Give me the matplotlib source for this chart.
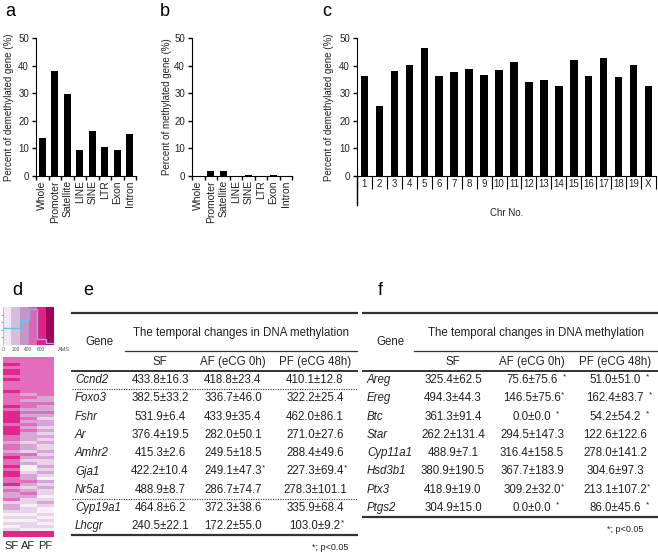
import numpy as np
import matplotlib.pyplot as plt
from matplotlib.colors import ListedColormap

plt.rcParams['font.family'] = ['Liberation Sans', 'DejaVu Sans']

W, H = 658, 553

# a / b: genomic regions
regions = ['Whole', 'Promoter', 'Satellite', 'LINE', 'SINE', 'LTR', 'Exon', 'Intron']
demeth_pct = [13.7, 38.0, 29.8, 9.4, 16.3, 10.5, 9.4, 15.1]
meth_pct = [0.0, 1.8, 1.9, 0.0, 0.2, 0.0, 0.3, 0.0]

# c: chromosomes
chroms = [str(i) for i in range(1, 20)] + ['X']
chrom_pct = [36.3, 25.3, 38.1, 40.2, 46.2, 36.1, 37.6, 38.6, 36.6, 38.3,
             41.3, 34.1, 34.7, 32.5, 42.0, 36.3, 42.6, 35.7, 40.3, 32.6]

# d: heatmap (colour level 0-5 per row, top to bottom) and AMS legend
hm_cols = ['SF', 'AF', 'PF']
sf_lv = "33" "434434" "3334333343" "444434443" "323323433" "434433423" "223122" "1010101" "44"
af_lv = "333333333333" "232332" "323232322" "212213212" "0012" "23212321" "1011010110" "44"
pf_lv = "3333333333333" "223223" "21221212" "121121211" "212102121" "101210" "0101010" "44"
level_colors = ['#F7F0F7', '#E9D3E9', '#D3A8D5', '#E46DBB', '#E2268C', '#A3005B']
legend_colors = ['#EFE9F3', '#D7BDDB', '#C596C9', '#DA66B6', '#E21F85', '#A3005B']
ams_edges = [0, 133, 267, 400, 533, 667, 800]
hist_edges = [0, 267, 408, 533, 675, 800]
hist_heights = [0.46, 0.65, 0.96, 0.17, 0.04]

# e / f: tables
genes_e = ['Ccnd2', 'Foxo3', 'Fshr', 'Ar', 'Amhr2', 'Gja1', 'Nr5a1', 'Cyp19a1', 'Lhcgr']
sf_e = ['433.8±16.3', '382.5±33.2', '531.9±6.4', '376.4±19.5', '415.3±2.6',
        '422.2±10.4', '488.9±8.7', '464.8±6.2', '240.5±22.1']
af_e = ['418.8±23.4', '336.7±46.0', '433.9±35.4', '282.0±50.1', '249.5±18.5',
        '249.1±47.3*', '286.7±74.7', '372.3±38.6', '172.2±55.0']
pf_e = ['410.1±12.8', '322.2±25.4', '462.0±86.1', '271.0±27.6', '288.4±49.6',
        '227.3±69.4*', '278.3±101.1', '335.9±68.4', '103.0±9.2*']
dotted_e = [0, 6]

genes_f = ['Areg', 'Ereg', 'Btc', 'Star', 'Cyp11a1', 'Hsd3b1', 'Ptx3', 'Ptgs2']
sf_f = ['325.4±62.5', '494.3±44.3', '361.3±91.4', '262.2±131.4', '488.9±7.1',
        '380.9±190.5', '418.9±19.0', '304.9±15.0']
af_f = ['75.6±75.6 *', '146.5±75.6*', '0.0±0.0 *', '294.5±147.3', '316.4±158.5',
        '367.7±183.9', '309.2±32.0*', '0.0±0.0 *']
pf_f = ['51.0±51.0 *', '162.4±83.7 *', '54.2±54.2 *', '122.6±122.6', '278.0±141.2',
        '304.6±97.3', '213.1±107.2*', '86.0±45.6 *']

TXT = '#222222'
TFS = 8.3

fig = plt.figure(figsize=(W / 100, H / 100), dpi=100)


def px_axes(x0, y0, x1, y1):
    return fig.add_axes([x0 / W, 1 - y1 / H, (x1 - x0) / W, (y1 - y0) / H])


def bar_panel(box, cats, vals, ylabel, width, label_x):
    ax = px_axes(*box)
    x = np.arange(len(cats))
    ax.bar(x, vals, width=width, color='black')
    ax.set_xlim(-0.5, len(cats) - 0.5)
    ax.set_ylim(0, 50)
    ax.set_yticks(range(0, 51, 10))
    for s in ['top', 'right']:
        ax.spines[s].set_visible(False)
    ax.tick_params(axis='y', direction='out', length=3, width=1, labelsize=7,
                   pad=2, labelcolor=TXT)
    ax.set_xticks(np.arange(len(cats) + 1) - 0.5)
    ax.set_xticklabels([])
    ax.set_xticks(x, minor=True)
    ax.set_ylabel(ylabel, fontsize=7, color=TXT)
    ax.yaxis.set_label_coords(label_x, 0.5)
    return ax, x


# a
ax, x = bar_panel((36, 38, 136, 176), regions, demeth_pct,
                  'Percent of demethylated gene (%)', 0.55, -0.22)
ax.set_xticklabels(regions, minor=True, rotation=90, fontsize=7.5, color=TXT)
ax.tick_params(axis='x', which='major', length=3, width=1)
ax.tick_params(axis='x', which='minor', length=0, pad=3)

# b
ax, x = bar_panel((192, 38, 292, 176), regions, meth_pct,
                  'Percent of methylated gene (%)', 0.55, -0.20)
ax.set_xticklabels(regions, minor=True, rotation=90, fontsize=7.5, color=TXT)
ax.tick_params(axis='x', which='major', length=3, width=1)
ax.tick_params(axis='x', which='minor', length=0, pad=3)

# c
ax, x = bar_panel((357, 38, 656, 176), chroms, chrom_pct,
                  'Percent of demethylated gene (%)', 0.5, -0.077)
ax.set_xticklabels(chroms, minor=True, fontsize=7, color=TXT)
ax.tick_params(axis='x', which='major', length=9.5, width=0.8)
ax.tick_params(axis='x', which='minor', length=0, pad=2)
ax.plot([-0.5, -0.5], [0, -0.21], color='black', lw=1,
        transform=ax.get_xaxis_transform(), clip_on=False)
ax.set_xlabel('Chr No.', fontsize=7, color=TXT, labelpad=10)

# d: AMS legend
axl = px_axes(3, 307, 54, 345)
axl.bar(ams_edges[:-1], 1, width=np.diff(ams_edges), align='edge',
        color=legend_colors)
axl.stairs(hist_heights, hist_edges, baseline=None, color='#5BC8EA', lw=1)
axl.set_xlim(0, 800)
axl.set_ylim(0, 1)
axl.set_xticks([0, 200, 400, 600])
axl.set_yticks([0.2, 0.4, 0.6, 0.8])
axl.set_yticklabels([])
axl.tick_params(axis='x', length=0, labelsize=3.5, pad=1.5, labelcolor='#555555')
axl.tick_params(axis='y', length=1.5, width=0.5, color='#777777')
for s in ['top', 'right', 'bottom']:
    axl.spines[s].set_visible(False)
axl.spines['left'].set_linewidth(0.4)
axl.spines['left'].set_color('#999999')
axl.text(1.07, -0.13, 'AMS', transform=axl.transAxes, fontsize=4,
         color='#555555', va='center', ha='left')

# d: heatmap
levels = np.array([[int(c) for c in col] for col in (sf_lv, af_lv, pf_lv)]).T
axh = px_axes(3, 357, 54, 537)
axh.imshow(levels, cmap=ListedColormap(level_colors), vmin=-0.5, vmax=5.5,
           aspect='auto', interpolation='nearest')
axh.set_xticks(range(len(hm_cols)))
axh.set_xticklabels(hm_cols, fontsize=8, color=TXT)
axh.set_yticks([])
axh.tick_params(axis='x', length=0, pad=3)
for s in axh.spines.values():
    s.set_visible(False)

# overlay for panel letters and tables (pixel coordinates)
ov = fig.add_axes([0, 0, 1, 1])
ov.set_xlim(0, W)
ov.set_ylim(H, 0)
ov.axis('off')

for letter, lx, ly in [('a', 5, 16), ('b', 160, 16), ('c', 322, 16),
                       ('d', 12, 295), ('e', 83, 295), ('f', 378, 295)]:
    ov.text(lx, ly, letter, fontsize=13, ha='left', va='baseline', color='black')


def cell(x, y, s):
    base = s.rstrip(' *')
    t = ov.text(x, y, base, ha='center', va='center', fontsize=TFS, color=TXT)
    if s.endswith('*'):
        gap = 3.5 if s.endswith(' *') else 0.3
        ov.annotate('*', xy=(1, 1), xycoords=t, xytext=(gap, 0.5),
                    textcoords='offset points', fontsize=6, ha='left',
                    va='top', color=TXT)


def draw_table(x0, x1, gene_x, head_x, sub_x0, col_x, genes, cols, dotted, note_x):
    y0, dy = 380, 18.3
    n = len(genes)
    lc = '#333333'
    ov.plot([x0, x1], [313, 313], color=lc, lw=1.6)
    ov.text((sub_x0 + x1) / 2, 333, 'The temporal changes in DNA methylation',
            ha='center', va='center', fontsize=TFS, color=TXT)
    ov.plot([sub_x0, x1], [351, 351], color=lc, lw=0.9)
    ov.text(head_x, 342, 'Gene', ha='center', va='center', fontsize=TFS, color=TXT)
    for cx, name in zip(col_x, ['SF', 'AF (eCG 0h)', 'PF (eCG 48h)']):
        ov.text(cx, 362, name, ha='center', va='center', fontsize=TFS, color=TXT)
    ov.plot([x0, x1], [370.5, 370.5], color=lc, lw=1.4)
    for i, g in enumerate(genes):
        y = y0 + i * dy
        ov.text(gene_x, y, g, ha='left', va='center', fontsize=TFS,
                style='italic', color=TXT)
        for cx, col in zip(col_x, cols):
            cell(cx, y, col[i])
    for i in dotted:
        yd = y0 + (i + 0.5) * dy
        ov.plot([x0, x1], [yd, yd], color=lc, lw=0.8, ls=(0, (1, 1.2)))
    yb = y0 + (n - 1) * dy + 9
    ov.plot([x0, x1], [yb, yb], color=lc, lw=1.6)
    ov.text(note_x, yb + 12, '*; p<0.05', ha='right', va='center',
            fontsize=6.5, color=TXT)


draw_table(72, 357, 75, 99, 125, [160, 233, 315], genes_e,
           [sf_e, af_e, pf_e], dotted_e, 348)
draw_table(363, 658, 367, 390, 414, [453, 532, 615], genes_f,
           [sf_f, af_f, pf_f], [], 643)

fig.savefig('out.png', dpi=100)
